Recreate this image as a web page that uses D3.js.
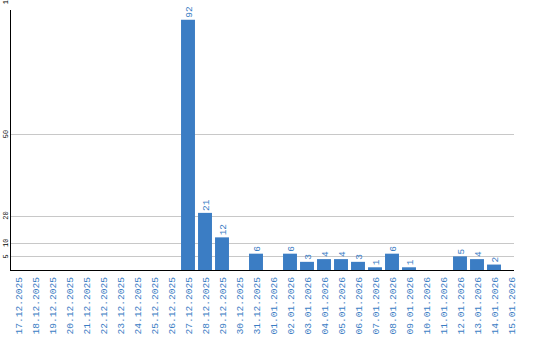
<!DOCTYPE html>
<html>
<head>
<meta charset="utf-8">
<script src="https://cdn.jsdelivr.net/npm/d3@7"></script>
<style>
  body { margin: 0; background: #fff; }
  svg { display: block; }
  text { font-family: "Liberation Mono", "DejaVu Sans Mono", monospace; }
</style>
</head>
<body>
<div id="chart"></div>
<script>
const dates = [
  '17.12.2025', '18.12.2025', '19.12.2025', '20.12.2025', '21.12.2025',
  '22.12.2025', '23.12.2025', '24.12.2025', '25.12.2025', '26.12.2025',
  '27.12.2025', '28.12.2025', '29.12.2025', '30.12.2025', '31.12.2025',
  '01.01.2026', '02.01.2026', '03.01.2026', '04.01.2026', '05.01.2026',
  '06.01.2026', '07.01.2026', '08.01.2026', '09.01.2026', '10.01.2026',
  '11.01.2026', '12.01.2026', '13.01.2026', '14.01.2026', '15.01.2026'
]
const counts = [
  0, 0, 0, 0, 0, 0, 0, 0, 0, 0,
  92, 21, 12, 0, 6, 0, 6, 3, 4, 4,
  3, 1, 6, 1, 0, 0, 5, 4, 2, 0
]
const yTicks = [5, 10, 20, 50, 100]

const width = 540
const height = 340
const blue = '#3b7dc4'

const svg = d3.select('#chart').append('svg')
  .attr('width', width)
  .attr('height', height)

const x = d3.scaleBand()
  .domain(dates)
  .range([9.5, 519.5])
  .paddingInner(0.18)
  .paddingOuter(0.09)

// 100 sits just above the top edge, its label gets clipped like in the original
const y = d3.scaleLinear()
  .domain([0, 100])
  .range([270, -2])

// grid
svg.append('g')
  .selectAll('line')
  .data(yTicks)
  .join('line')
  .attr('x1', 10)
  .attr('x2', 514)
  .attr('y1', d => Math.round(y(d)) + 0.5)
  .attr('y2', d => Math.round(y(d)) + 0.5)
  .attr('stroke', '#c8c8c8')
  .attr('stroke-width', 1)

// y tick labels, rotated
svg.append('g')
  .selectAll('text')
  .data(yTicks)
  .join('text')
  .attr('transform', d => `translate(8, ${y(d)}) rotate(-90)`)
  .attr('text-anchor', 'middle')
  .attr('font-size', 7)
  .attr('fill', '#000')
  .text(d => d)

// bars
const data = dates.map((d, i) => ({ date: d, value: counts[i] }))
const nonZero = data.filter(d => d.value > 0)

svg.append('g')
  .selectAll('rect')
  .data(nonZero)
  .join('rect')
  .attr('x', d => x(d.date))
  .attr('y', d => y(d.value))
  .attr('width', x.bandwidth())
  .attr('height', d => y(0) - y(d.value))
  .attr('fill', blue)

// value labels above bars
svg.append('g')
  .selectAll('text')
  .data(nonZero)
  .join('text')
  .attr('transform', d => `translate(${x(d.date) + x.bandwidth() / 2 + 3.5}, ${y(d.value) - 2}) rotate(-90)`)
  .attr('text-anchor', 'start')
  .attr('font-size', 9.5)
  .attr('fill', blue)
  .text(d => d.value)

// axes lines
svg.append('line')
  .attr('x1', 10.5).attr('x2', 10.5)
  .attr('y1', 10).attr('y2', 270)
  .attr('stroke', '#000')
svg.append('line')
  .attr('x1', 10).attr('x2', 514)
  .attr('y1', 270.5).attr('y2', 270.5)
  .attr('stroke', '#000')

// date labels
svg.append('g')
  .selectAll('text')
  .data(dates)
  .join('text')
  .attr('transform', d => `translate(${x(d) + x.bandwidth() / 2 + 3.5}, 277) rotate(-90)`)
  .attr('text-anchor', 'end')
  .attr('font-size', 9.6)
  .attr('fill', blue)
  .text(d => d)
</script>
</body>
</html>
